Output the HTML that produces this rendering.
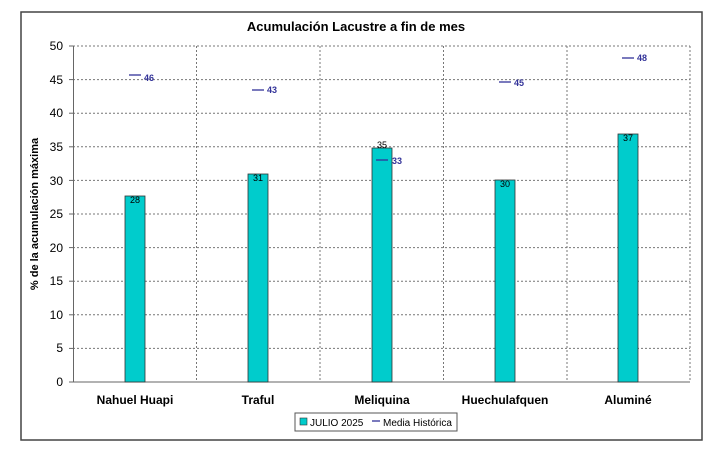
<!DOCTYPE html><html><head><style>body{margin:0;background:#fff}svg{display:block}text{font-family:"Liberation Sans",Arial,sans-serif}</style></head><body>
<svg width="721" height="453" xmlns="http://www.w3.org/2000/svg">
<rect x="21" y="12" width="681" height="428" fill="#fff" stroke="#444" stroke-width="1.5"/>
<text x="356" y="31" text-anchor="middle" font-size="13" font-weight="bold">Acumulación Lacustre a fin de mes</text>
<g stroke="#777" stroke-dasharray="2,2" stroke-width="1">
<line x1="73" y1="46" x2="690" y2="46"/><line x1="73" y1="79.6" x2="690" y2="79.6"/><line x1="73" y1="113.2" x2="690" y2="113.2"/><line x1="73" y1="146.8" x2="690" y2="146.8"/><line x1="73" y1="180.4" x2="690" y2="180.4"/><line x1="73" y1="214" x2="690" y2="214"/><line x1="73" y1="247.6" x2="690" y2="247.6"/><line x1="73" y1="281.2" x2="690" y2="281.2"/><line x1="73" y1="314.8" x2="690" y2="314.8"/><line x1="73" y1="348.4" x2="690" y2="348.4"/>
<line x1="196.5" y1="46" x2="196.5" y2="382"/><line x1="320" y1="46" x2="320" y2="382"/><line x1="443.5" y1="46" x2="443.5" y2="382"/><line x1="567" y1="46" x2="567" y2="382"/><line x1="690" y1="46" x2="690" y2="382"/>
</g>
<g stroke="#666"><line x1="73.5" y1="46" x2="73.5" y2="382"/><line x1="73" y1="382" x2="690" y2="382"/>
<line x1="69" y1="46" x2="73" y2="46"/><line x1="69" y1="79.6" x2="73" y2="79.6"/><line x1="69" y1="113.2" x2="73" y2="113.2"/><line x1="69" y1="146.8" x2="73" y2="146.8"/><line x1="69" y1="180.4" x2="73" y2="180.4"/><line x1="69" y1="214" x2="73" y2="214"/><line x1="69" y1="247.6" x2="73" y2="247.6"/><line x1="69" y1="281.2" x2="73" y2="281.2"/><line x1="69" y1="314.8" x2="73" y2="314.8"/><line x1="69" y1="348.4" x2="73" y2="348.4"/><line x1="69" y1="382" x2="73" y2="382"/></g>
<g font-size="12" text-anchor="end"><text x="63" y="50">50</text><text x="63" y="84">45</text><text x="63" y="117">40</text><text x="63" y="151">35</text><text x="63" y="185">30</text><text x="63" y="218">25</text><text x="63" y="252">20</text><text x="63" y="285">15</text><text x="63" y="319">10</text><text x="63" y="352">5</text><text x="63" y="386">0</text></g>
<text transform="translate(38,214) rotate(-90)" text-anchor="middle" font-size="11" font-weight="bold">% de la acumulación máxima</text>
<g fill="#00CCCC" stroke="#333" stroke-width="0.8">
<rect x="125" y="196" width="20" height="186"/><rect x="248" y="174" width="20" height="208"/><rect x="372" y="148" width="20" height="234"/><rect x="495" y="180" width="20" height="202"/><rect x="618" y="134" width="20" height="248"/></g>
<g font-size="9" text-anchor="middle"><text x="135" y="203">28</text><text x="258" y="181">31</text><text x="382" y="148">35</text><text x="505" y="187">30</text><text x="628" y="141">37</text></g>
<g stroke="#333399" stroke-width="1.3"><line x1="129" y1="75" x2="141" y2="75"/><line x1="252" y1="90" x2="264" y2="90"/><line x1="376" y1="160" x2="388" y2="160"/><line x1="499" y1="82" x2="511" y2="82"/><line x1="622" y1="58" x2="634" y2="58"/></g>
<g font-size="9" fill="#333399" font-weight="bold"><text x="144" y="81">46</text><text x="267" y="93">43</text><text x="392" y="164">33</text><text x="514" y="86">45</text><text x="637" y="61">48</text></g>
<g font-size="12" font-weight="bold" text-anchor="middle"><text x="135" y="404">Nahuel Huapi</text><text x="258" y="404">Traful</text><text x="382" y="404">Meliquina</text><text x="505" y="404">Huechulafquen</text><text x="628" y="404">Aluminé</text></g>
<rect x="295" y="413" width="162" height="18" fill="#fff" stroke="#555"/>
<rect x="300" y="418" width="7" height="7" fill="#00CCCC" stroke="#333" stroke-width="0.6"/>
<text x="310" y="426" font-size="10">JULIO 2025</text>
<line x1="372" y1="421" x2="380" y2="421" stroke="#333399" stroke-width="1.3"/>
<text x="383" y="426" font-size="10">Media Histórica</text>
</svg></body></html>
